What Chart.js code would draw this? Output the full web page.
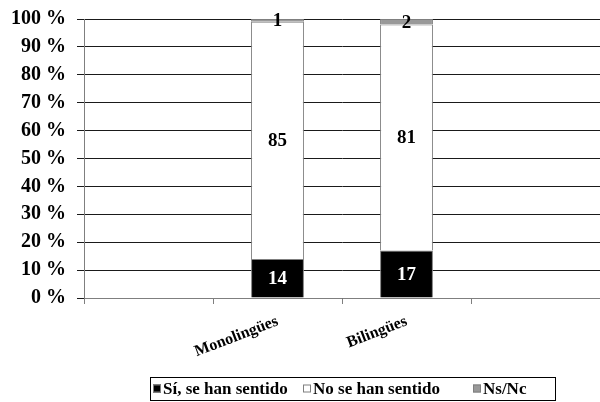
<!DOCTYPE html>
<html>
<head>
<meta charset="utf-8">
<script src="https://cdn.jsdelivr.net/npm/chart.js@4"></script>
<style>
  html, body { margin: 0; padding: 0; background: #fff; }
  #wrap { width: 600px; height: 402px; }
</style>
</head>
<body>
<div id="wrap"><canvas id="chart"></canvas></div>
<script>
// categories (first and last slots are empty in the original)
const categories = ['', 'Monolingües', 'Bilingües', ''];
const siSentido = [null, 14, 17, null];
const noSentido = [null, 85, 81, null];
const nsNc = [null, 1, 2, null];
const seriesNames = ['Sí, se han sentido', 'No se han sentido', 'Ns/Nc'];

const serif = "'Liberation Serif', 'DejaVu Serif', serif";

// draw the numbers inside each segment
const segmentLabels = {
    id: 'segmentLabels',
    afterDatasetsDraw(chart) {
        const ctx = chart.ctx;
        ctx.save();
        ctx.font = 'bold 19px ' + serif;
        ctx.textAlign = 'center';
        ctx.textBaseline = 'middle';
        chart.data.datasets.forEach((ds, di) => {
            const meta = chart.getDatasetMeta(di);
            meta.data.forEach((bar, i) => {
                const v = ds.data[i];
                if (v == null) return;
                ctx.fillStyle = di === 0 ? '#fff' : '#000';
                ctx.fillText(String(v), bar.x, (bar.y + bar.base) / 2 + 1);
            });
        });
        ctx.restore();
    }
};

// framed legend below the axis, laid out like the original
const framedLegend = {
    id: 'framedLegend',
    afterDraw(chart) {
        const ctx = chart.ctx;
        const frame = { left: 150, right: 555, top: 377, bottom: 400 };
        const itemX = [153, 303, 473];
        const midY = (frame.top + frame.bottom) / 2;
        ctx.save();
        ctx.strokeStyle = '#000';
        ctx.lineWidth = 1;
        ctx.strokeRect(frame.left + 0.5, frame.top + 0.5,
            frame.right - frame.left, frame.bottom - frame.top);
        ctx.font = 'bold 17px ' + serif;
        ctx.textBaseline = 'middle';
        ctx.textAlign = 'left';
        chart.data.datasets.forEach((ds, i) => {
            const x = itemX[i];
            ctx.fillStyle = ds.backgroundColor;
            ctx.fillRect(x, midY - 4, 8, 8);
            ctx.strokeStyle = ds.borderColor;
            ctx.strokeRect(x + 0.5, midY - 3.5, 7, 7);
            ctx.fillStyle = '#000';
            ctx.fillText(ds.label, x + 10, midY + 1);
        });
        ctx.restore();
    }
};

new Chart(document.getElementById('chart'), {
    type: 'bar',
    data: {
        labels: categories,
        datasets: [
            { label: seriesNames[0], data: siSentido, backgroundColor: '#000000' },
            { label: seriesNames[1], data: noSentido, backgroundColor: '#ffffff' },
            { label: seriesNames[2], data: nsNc, backgroundColor: '#999999' }
        ].map(d => Object.assign(d, {
            borderColor: '#7f7f7f',
            borderWidth: 1,
            barPercentage: 0.41,
            categoryPercentage: 1
        }))
    },
    options: {
        responsive: true,
        maintainAspectRatio: false,
        animation: false,
        layout: { padding: { top: 19, right: 0, left: 0, bottom: 32 } },
        scales: {
            x: {
                stacked: true,
                afterFit: scale => { scale.height = 72; },
                grid: {
                    display: true,
                    drawOnChartArea: false,
                    tickLength: 6,
                    color: '#7f7f7f'
                },
                border: { color: '#7f7f7f' },
                ticks: {
                    color: '#000',
                    font: { family: serif, size: 16, weight: 'bold' },
                    maxRotation: 21,
                    minRotation: 21,
                    autoSkip: false,
                    padding: 8
                }
            },
            y: {
                stacked: true,
                min: 0,
                max: 100,
                afterFit: scale => {
                    scale.width = 84;
                    scale.paddingTop = 0;
                    scale.paddingBottom = 0;
                },
                grid: {
                    color: '#1a1a1a',
                    tickLength: 7
                },
                border: { color: '#7f7f7f' },
                ticks: {
                    stepSize: 10,
                    autoSkip: false,
                    color: '#000',
                    font: { family: serif, size: 20, weight: 'bold' },
                    padding: 11,
                    callback: v => v + ' %'
                }
            }
        },
        plugins: {
            legend: { display: false },
            tooltip: { enabled: false }
        }
    },
    plugins: [segmentLabels, framedLegend]
});
</script>
</body>
</html>
